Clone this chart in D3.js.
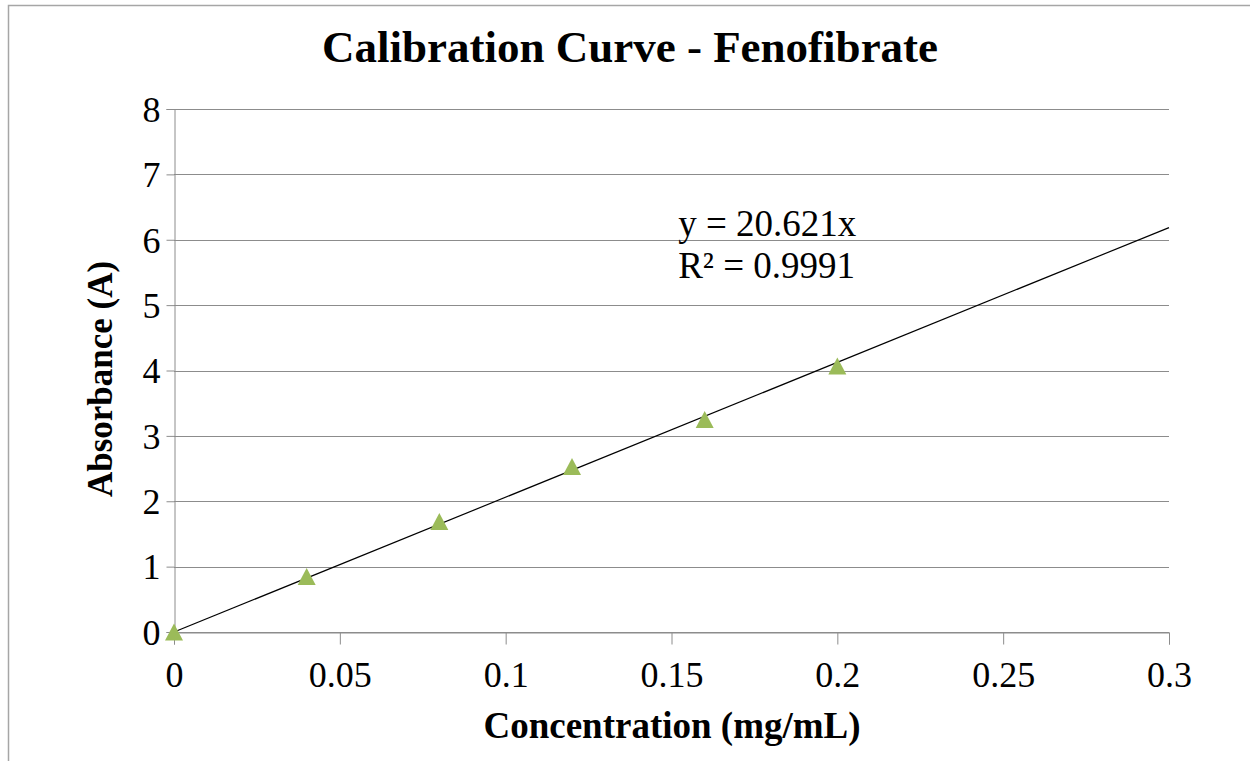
<!DOCTYPE html>
<html>
<head>
<meta charset="utf-8">
<script src="https://cdn.jsdelivr.net/npm/d3@7"></script>
<style>
  body { margin: 0; background: #fff; }
  svg { display: block; }
  svg text { font-family: "Liberation Serif", "Times New Roman", serif; }
</style>
</head>
<body>
<div id="chart"></div>
<script>
// data
var concentration = [0, 0.04, 0.08, 0.12, 0.16, 0.2];
var absorbance = [0.0, 0.85, 1.69, 2.53, 3.25, 4.07];
var slope = 20.621;
var xTicks = [0, 0.05, 0.1, 0.15, 0.2, 0.25, 0.3];
var yTicks = [0, 1, 2, 3, 4, 5, 6, 7, 8];

var W = 1250, H = 761;
var margin = {top: 109, right: 81, bottom: 129, left: 174},
  width = W - margin.left - margin.right,
  height = H - margin.top - margin.bottom;

var svg = d3.select("#chart").append("svg")
  .attr("width", W)
  .attr("height", H);

// outer chart border
svg.append("rect")
  .attr("x", 8.5).attr("y", 5.5)
  .attr("width", W + 20).attr("height", H + 20)
  .attr("fill", "none").attr("stroke", "#a6a6a6").attr("stroke-width", 1.5);

var g = svg.append("g")
  .attr("transform", "translate(" + margin.left + "," + margin.top + ")");

var x = d3.scaleLinear().domain([0, 0.3]).range([0, width]);
var y = d3.scaleLinear().domain([0, 8]).range([height, 0]);

// horizontal gridlines
g.selectAll(".grid")
  .data(yTicks)
  .enter().append("line")
    .attr("x1", 0).attr("x2", width)
    .attr("y1", function(d) { return Math.round(y(d)) + 0.5; })
    .attr("y2", function(d) { return Math.round(y(d)) + 0.5; })
    .attr("stroke", "#8c8c8c").attr("stroke-width", 1);

// x axis
var xAxis = g.append("g")
  .attr("transform", "translate(0," + (Math.round(height) + 0.5) + ")")
  .call(d3.axisBottom(x).tickValues(xTicks).tickSize(12).tickPadding(20)
    .tickFormat(function(d) { return d3.format("")(+d.toFixed(2)); }));

// y axis
var yAxis = g.append("g")
  .attr("transform", "translate(0.5,0)")
  .call(d3.axisLeft(y).tickValues(yTicks).tickSize(8).tickPadding(6));

[xAxis, yAxis].forEach(function(a) {
  a.select(".domain").attr("stroke", "#8c8c8c");
  a.selectAll(".tick line").attr("stroke", "#8c8c8c");
  a.selectAll(".tick text")
    .attr("fill", "#000")
    .style("font-family", "'Liberation Serif', serif")
    .style("font-size", "36px");
});
yAxis.selectAll(".tick text").attr("dy", "0.34em");
xAxis.selectAll(".tick text").attr("dy", "0.62em");

// trendline
g.append("line")
  .attr("x1", x(0)).attr("y1", y(0))
  .attr("x2", x(0.3)).attr("y2", y(slope * 0.3))
  .attr("stroke", "#000").attr("stroke-width", 1.2);

// markers: triangles centred on their box, like Excel
g.selectAll(".pt")
  .data(concentration)
  .enter().append("path")
    .attr("d", "M0,-8.5L9,8.5L-9,8.5Z")
    .attr("transform", function(d, i) {
      return "translate(" + x(d) + "," + y(absorbance[i]) + ")";
    })
    .attr("fill", "#9bbb59");

// equation
g.append("text")
  .attr("x", x(0.152)).attr("y", 236 - margin.top)
  .style("font-size", "37px")
  .text("y = 20.621x");
g.append("text")
  .attr("x", x(0.152)).attr("y", 278 - margin.top)
  .style("font-size", "37px")
  .text("R² = 0.9991");

// title and axis labels
svg.append("text")
  .attr("x", 630).attr("y", 62)
  .attr("text-anchor", "middle")
  .style("font-size", "45px").style("font-weight", "bold")
  .text("Calibration Curve - Fenofibrate");

svg.append("text")
  .attr("x", 672).attr("y", 738)
  .attr("text-anchor", "middle")
  .style("font-size", "37px").style("font-weight", "bold")
  .text("Concentration (mg/mL)");

svg.append("text")
  .attr("transform", "translate(112,379) rotate(-90)")
  .attr("text-anchor", "middle")
  .style("font-size", "35px").style("font-weight", "bold")
  .text("Absorbance (A)");
</script>
</body>
</html>
